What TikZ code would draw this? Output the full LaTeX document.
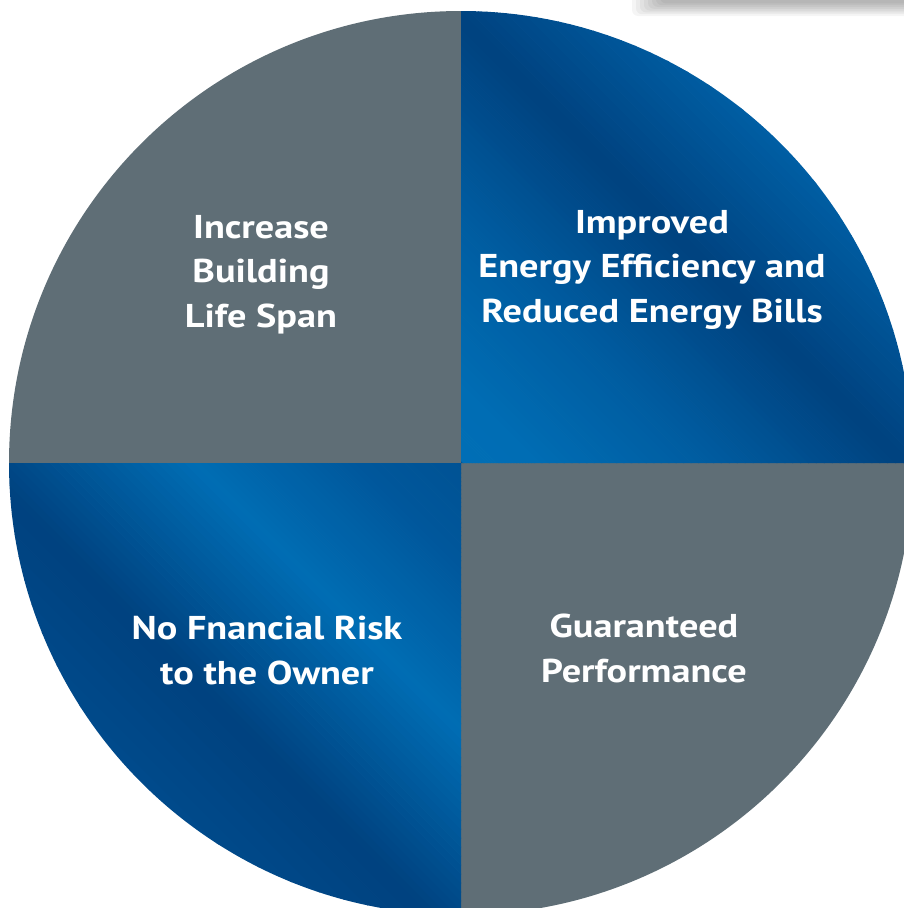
\documentclass[tikz,border=0pt]{standalone}
\usepackage{fontspec}
\setmainfont{PT Sans}[FakeStretch=1.16]
\definecolor{slate}{HTML}{5F6E76}
\definecolor{bA}{HTML}{0058A0}
\definecolor{bD}{HTML}{00427F}
\definecolor{bL}{HTML}{006DB4}
\definecolor{bM}{HTML}{00579B}
\definecolor{bN}{HTML}{005294}
\definecolor{bP}{HTML}{006EB6}
\definecolor{bQ}{HTML}{005CA0}
\definecolor{bR}{HTML}{0060A6}
\tikzset{
  label/.style={text=white, align=center, anchor=base, inner sep=0pt,
    font={\fontsize{33}{44.5}\selectfont\bfseries}},
  shadowpiece/.style={fill=black, opacity=0.04, rounded corners=6pt},
}
\begin{document}
\begin{tikzpicture}[x=1pt,y=-1pt]
\useasboundingbox (0,0) rectangle (904,908);
\fill[white] (0,0) rectangle (904,908);
% soft shadow of a box above the frame
\foreach \i in {0,...,7}{
  \fill[shadowpiece] (632+\i*4,-20) rectangle (930,16-\i*1.8);
}
\coordinate (c) at (461,463);
\begin{scope}
  \clip (c) circle[radius=452];
  \fill[slate] (0,0) rectangle (c);
  \fill[slate] (c) rectangle (904,908);
  \begin{scope}
    \clip (c) rectangle (904,0) (0,908) rectangle (c);
    \foreach \ua/\ca/\ub/\cb in {-910/bA/-485/bD, -485/bD/-270/bL, -270/bL/-100/bM, -100/bM/0/bN, 0/bP/71/bL, 71/bL/250/bQ, 250/bQ/440/bD, 440/bD/650/bR, 650/bR/910/bA}{
      \foreach \k in {0,...,23}{
        \pgfmathsetmacro\p{100-(\k+0.5)*100/24}
        \pgfmathsetmacro\lo{\ua+(\ub-\ua)*\k/24}
        \pgfmathsetmacro\hi{\ua+(\ub-\ua)*(\k+1)/24+0.8}
        \fill[color=\ca!\p!\cb] (\lo-1000,-1000) -- (\lo+1000,1000) -- (\hi+1000,1000) -- (\hi-1000,-1000) -- cycle;
      }
    }
  \end{scope}
\end{scope}
\node[label] (tl) at (261,327) {Increase\\Building\\Life Span};
\node[label] (tr) at (652,322) {Improved\\Energy Efficiency and\\Reduced Energy Bills};
\node[label] (bl) at (267,684) {No Fnancial Risk\\to the Owner};
\node[label] (br) at (644,682) {Guaranteed\\Performance};
\end{tikzpicture}
\end{document}
